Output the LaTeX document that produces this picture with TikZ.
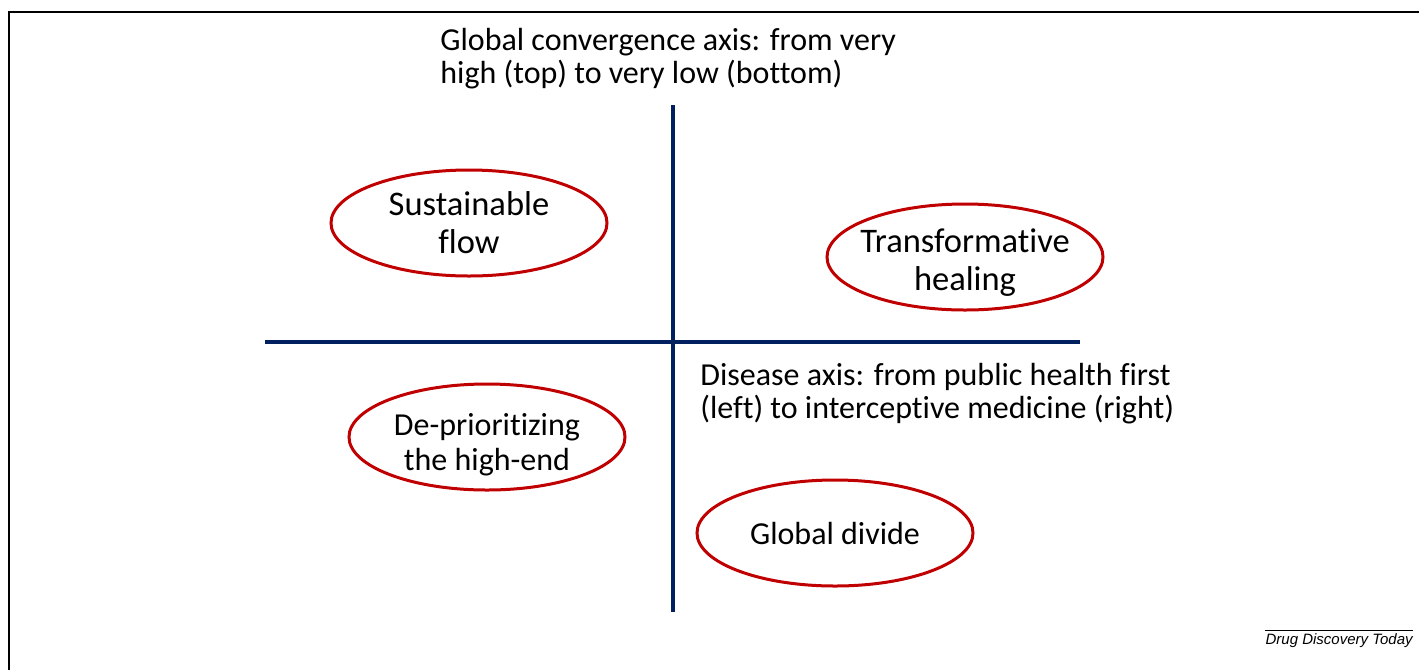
\documentclass[tikz,border=0pt]{standalone}
\usepackage{fontspec}
\setmainfont[RawFeature={-liga;-clig;-calt;-dlig}]{Carlito}
\newfontfamily\journalfont{Liberation Sans}
\usetikzlibrary{shapes.geometric}
\definecolor{axisblue}{RGB}{0,32,96}
\definecolor{ovalred}{RGB}{192,0,0}
\newcommand{\dropby}[1]{\rule{0pt}{#1}}

\begin{document}
\begin{tikzpicture}[
    x=0.5pt, y=-0.5pt,
    scenario/.style={ellipse, draw=ovalred, line width=1.5pt, minimum width=138pt, minimum height=53pt, inner xsep=-12pt, inner ysep=-6pt, align=center},
    bigtext/.style={font=\fontsize{17.25}{19}\selectfont},
    smalltext/.style={font=\fontsize{16}{17.5}\selectfont},
    axislabel/.style={font=\fontsize{16}{16.5}\selectfont, align=left, inner sep=0pt, anchor=north west},
    axis/.style={draw=axisblue, line width=2pt}
]
    \useasboundingbox (0,0) rectangle (1419,670);

    % Frame
    \draw[line width=1pt] (1419,12) -- (9,12) -- (9,670);

    % Axes
    \coordinate (vtop) at (673,105);
    \coordinate (vbot) at (673,612);
    \coordinate (hleft) at (265,342);
    \coordinate (hright) at (1080,342);
    \draw[axis] (vtop) -- (vbot);
    \draw[axis] (hleft) -- (hright);

    % Axis labels
    \node[axislabel] (convergence) at (440,28) {Global convergence axis: from very\\high (top) to very low (bottom)};
    \node[axislabel] (disease) at (700,363) {Disease axis: from public health first\\(left) to interceptive medicine (right)};

    % Scenarios
    \node[scenario, bigtext] (flow) at (469,223) {Sustainable\\flow};
    \node[scenario, bigtext] (healing) at (965,257) {\dropby{17pt}Transformative\\healing};
    \node[scenario, smalltext] (highend) at (487,437) {\dropby{19pt}De-prioritizing\\the high-end};
    \node[scenario, smalltext] (divide) at (835,533) {Global divide};

    % Journal mark
    \node[font=\journalfont\itshape\fontsize{7.5}{9}\selectfont, anchor=base east, inner sep=0pt] (journal) at (1413,644) {Drug Discovery Today};
    \draw[line width=0.5pt] ([yshift=1pt]journal.north west) -- ([yshift=1pt]journal.north east);
\end{tikzpicture}
\end{document}
